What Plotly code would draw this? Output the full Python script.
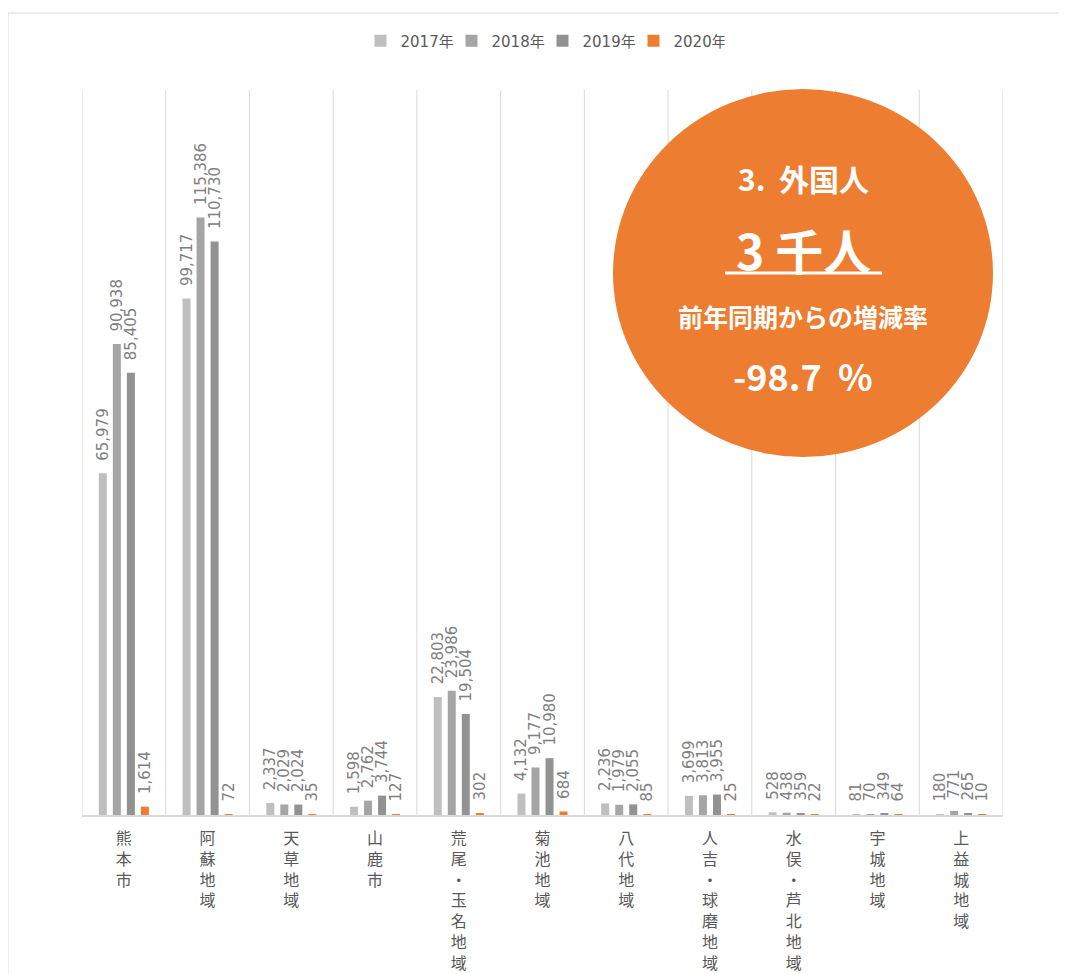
import plotly.graph_objects as go

categories = ["熊本市", "阿蘇地域", "天草地域", "山鹿市", "荒尾・玉名地域", "菊池地域",
              "八代地域", "人吉・球磨地域", "水俣・芦北地域", "宇城地域", "上益城地域"]
series_names = ["2017年", "2018年", "2019年", "2020年"]
v2017 = [65979, 99717, 2337, 1598, 22803, 4132, 2236, 3699, 528, 81, 180]
v2018 = [90938, 115386, 2029, 2762, 23986, 9177, 1979, 3813, 438, 70, 771]
v2019 = [85405, 110730, 2024, 3744, 19504, 10980, 2055, 3955, 359, 349, 265]
v2020 = [1614, 72, 35, 127, 302, 684, 85, 25, 22, 64, 10]
colors = ["#BFBFBF", "#A5A5A5", "#929292", "#ED7D31"]

OFF = 8  # page body margin
W, H = 1067 - OFF, 974 - OFF
L, R, T, B = 82 - OFF, 1003 - OFF, 90 - OFF, 815 - OFF


def px(x):
    return (x - OFF - L) / (R - L)


def py(y):
    return (B - (y - OFF)) / (B - T)


tick_text = ["<br>".join(list(c)) for c in categories]

fig = go.Figure()
for name, vals, col in zip(series_names, [v2017, v2018, v2019, v2020], colors):
    labels = ["\u00a0\u00a0" + f"{v:,}" for v in vals]
    fig.add_trace(go.Bar(
        name=name, x=list(range(len(categories))), y=vals,
        marker=dict(color=col, line=dict(width=0)),
        text=labels, textposition="outside", textangle=-90,
        constraintext="none", cliponaxis=False,
        textfont=dict(family="DejaVu Sans", size=15, color="#808080"),
    ))

shapes = []
for i in range(len(categories) + 1):
    shapes.append(dict(type="line", xref="x", yref="y", x0=i - 0.5, x1=i - 0.5, y0=0, y1=140000,
                       line=dict(color="#D9D9D9", width=1), layer="below"))
# outer frame
shapes.append(dict(type="line", xref="paper", yref="paper", x0=px(8), x1=px(1067), y0=py(13), y1=py(13),
                   line=dict(color="#D9D9D9", width=1)))
shapes.append(dict(type="line", xref="paper", yref="paper", x0=px(8), x1=px(8), y0=py(13), y1=py(974),
                   line=dict(color="#D9D9D9", width=1)))
# circle
cx, cy = 803, 273
shapes.append(dict(type="circle", xref="paper", yref="paper",
                   x0=px(cx - 190), x1=px(cx + 190), y0=py(cy + 184), y1=py(cy - 184),
                   fillcolor="#ED7D31", line=dict(width=0), layer="above"))
# underline
shapes.append(dict(type="line", xref="paper", yref="paper", x0=px(725), x1=px(882), y0=py(273), y1=py(273),
                   line=dict(color="white", width=3), layer="above"))

jp = "Noto Sans CJK JP"
annotations = [
    dict(text="<b>3.\u00a0\u00a0外国人</b>", x=px(cx), y=py(178), size=30),
    dict(text="<b>3\u00a0千人</b>", x=px(cx), y=py(249), size=48),
    dict(text="<b>前年同期からの増減率</b>", x=px(cx), y=py(316), size=25),
    dict(text="<b>-98.7\u00a0\u00a0%</b>", x=px(cx), y=py(375), size=36),
]
ann = []
for a in annotations:
    ann.append(dict(text=a["text"], x=a["x"], y=a["y"], xref="paper", yref="paper",
                    xanchor="center", yanchor="middle", showarrow=False,
                    font=dict(family=jp, size=a["size"], color="white")))

fig.update_layout(
    width=W, height=H,
    margin=dict(l=L, r=W - R, t=T, b=H - B, pad=0, autoexpand=False),
    paper_bgcolor="white", plot_bgcolor="white",
    barmode="group", bargap=0.33, bargroupgap=0.43,
    font=dict(family="DejaVu Sans, Noto Sans CJK JP", color="#595959"),
    showlegend=True,
    legend=dict(orientation="h", x=0.5, xanchor="center", y=py(41), yanchor="middle",
                font=dict(family="DejaVu Sans, Noto Sans CJK JP", size=15, color="#595959"),
                entrywidth=46, entrywidthmode="pixels", itemwidth=30),
    xaxis=dict(range=[-0.5, len(categories) - 0.5], tickmode="array",
               tickvals=list(range(len(categories))), ticktext=tick_text, tickangle=0,
               showgrid=False, zeroline=False, showline=True, linecolor="#D9D9D9", linewidth=1.5,
               ticks="", ticklabelstandoff=8, automargin=False,
               tickfont=dict(family=jp, size=16, color="#595959")),
    yaxis=dict(range=[0, 140000], showgrid=False, zeroline=False, showticklabels=False, showline=False,
               automargin=False),
    shapes=shapes, annotations=ann,
)

fig.write_html("out.html")
